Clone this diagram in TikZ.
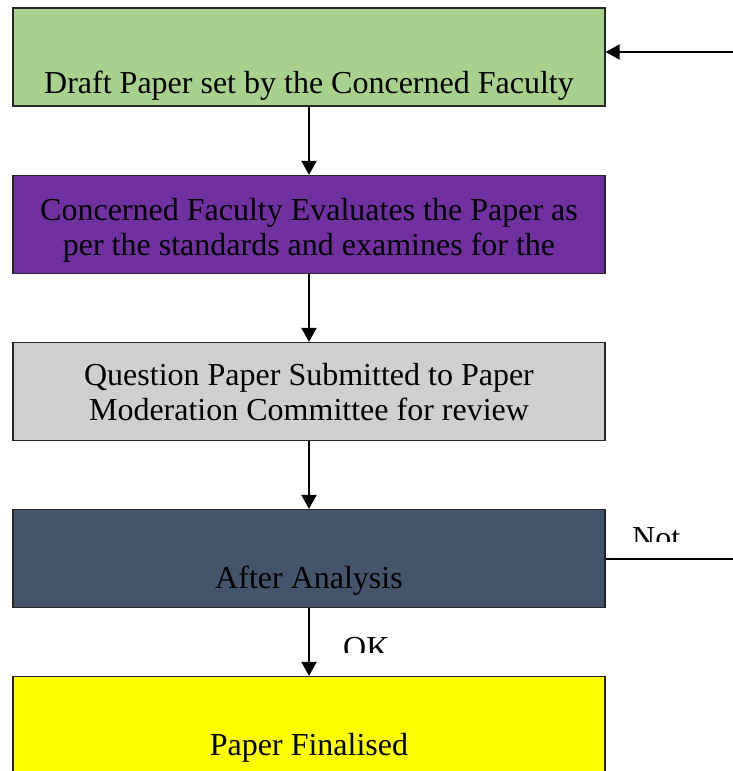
\documentclass[tikz,border=0pt]{standalone}
\usepackage{fontspec}
\setmainfont{Liberation Serif}
\usetikzlibrary{arrows.meta}
\definecolor{draftgreen}{HTML}{A9D18E}
\definecolor{evalpurple}{HTML}{7030A0}
\definecolor{reviewgray}{HTML}{D0CECE}
\definecolor{analysisslate}{HTML}{44546A}
\definecolor{finalyellow}{HTML}{FFFF00}
\tikzset{
  stagebox/.style={draw=black!85, line width=1.3pt, minimum width=592pt, minimum height=98pt, inner sep=0pt},
  boxtext/.style={font=\fontsize{32}{35}\selectfont, align=center, inner sep=0pt, anchor=base},
  flow/.style={line width=2pt, -{Triangle[length=14pt, width=15pt]}},
  plainline/.style={line width=2pt},
}
\begin{document}
\begin{tikzpicture}[x=1pt, y=-1pt]
\useasboundingbox (0,0) rectangle (733,771);
\clip (0,0) rectangle (733,771);
% stage boxes
\node[stagebox, fill=draftgreen]    (draft)    at (309,57)    {};
\node[stagebox, fill=evalpurple]    (evaluate) at (309,224.5) {};
\node[stagebox, fill=reviewgray]    (review)   at (309,391.5) {};
\node[stagebox, fill=analysisslate] (analysis) at (309,558.5) {};
\node[stagebox, fill=finalyellow]   (final)    at (309,725.5) {};
% box captions (base anchor sits on the last line)
\node[boxtext] (drafttext) at (309,93) {Draft Paper set by the Concerned Faculty};
\node[boxtext] (evaltext) at (309,255) {Concerned Faculty Evaluates the Paper as\\per the standards and examines for the};
\node[boxtext] (reviewtext) at (309,420) {Question Paper Submitted to Paper\\Moderation Committee for review};
\node[boxtext] (analysistext) at (309,588) {After Analysis};
\node[boxtext] (finaltext) at (309,755) {Paper Finalised};
% downward flow
\draw[flow] (draft.south) -- (evaluate.north);
\draw[flow] (evaluate.south) -- (review.north);
\draw[flow] (review.south) -- (analysis.north);
\draw[flow] (analysis.south) -- (final.north);
% rejection loop back to the drafting stage
\coordinate (loopout) at (733,558.5);
\coordinate (loopin) at (733,52);
\draw[plainline] (analysis.east) -- (loopout);
\draw[flow] (loopin) -- (draft.east |- loopin);
% branch labels, cut off at their frames
\begin{scope}
  \clip (615,515) rectangle (700,541);
  \node[boxtext, anchor=base west] (notlabel) at (632,548) {Not};
\end{scope}
\begin{scope}
  \clip (330,625) rectangle (410,652);
  \node[boxtext, anchor=base west] (oklabel) at (343,658) {OK};
\end{scope}
\end{tikzpicture}
\end{document}
